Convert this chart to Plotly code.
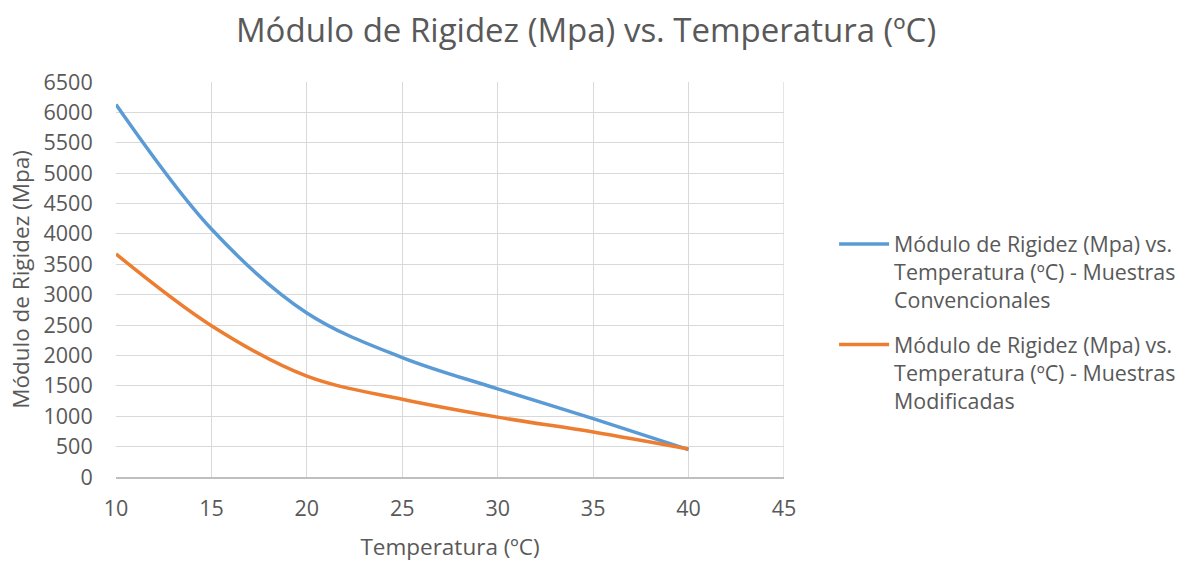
import plotly.graph_objects as go

temperatura = [10, 15, 20, 25, 30, 35, 40]
conv = [6130, 4080, 2700, 1965, 1450, 960, 450]
modif = [3670, 2490, 1660, 1280, 985, 740, 460]

name_conv = "Módulo de Rigidez (Mpa) vs.<br>Temperatura (ºC) - Muestras<br>Convencionales"
name_mod = "Módulo de Rigidez (Mpa) vs.<br>Temperatura (ºC) - Muestras<br>Modificadas"

FONT = "Open Sans"
TXT = "#595959"

fig = go.Figure()
fig.add_trace(go.Scatter(x=temperatura, y=conv, mode="lines", name=name_conv, legendgroup="a",
                         line=dict(color="#5B9BD5", width=3.5, shape="spline", smoothing=1.0)))
fig.add_trace(go.Scatter(x=temperatura, y=modif, mode="lines", name=name_mod, legendgroup="b",
                         line=dict(color="#ED7D31", width=3.5, shape="spline", smoothing=1.0)))

fig.update_layout(
    width=1196, height=562,
    margin=dict(l=116, r=412, t=82, b=85),
    paper_bgcolor="white", plot_bgcolor="white",
    font=dict(family=FONT, color=TXT, size=21.5),
    title=dict(text="Módulo de Rigidez (Mpa) vs. Temperatura (ºC)",
               x=0.49, xref="container", xanchor="center",
               y=0.945, yref="container", yanchor="middle",
               font=dict(family=FONT, size=33, color=TXT)),
    legend=dict(x=1.075, y=0.392, xanchor="left", yanchor="middle", valign="top",
                font=dict(family=FONT, size=21.4, color=TXT),
                tracegroupgap=14, itemwidth=50, bgcolor="rgba(0,0,0,0)"),
    xaxis=dict(range=[10, 45], dtick=5, tick0=10, showgrid=True, gridcolor="#D9D9D9",
               gridwidth=1.3, showline=True, linecolor="#BFBFBF", linewidth=1.5,
               zeroline=False, ticks="outside", ticklen=11, tickcolor="rgba(0,0,0,0)",
               tickfont=dict(size=21.5, color=TXT), automargin=False,
               title=dict(text="Temperatura (ºC)", font=dict(size=22.5, color=TXT), standoff=20)),
    yaxis=dict(range=[0, 6500], dtick=500, tick0=0, showgrid=True, gridcolor="#D9D9D9",
               gridwidth=1.3, showline=False, zeroline=False,
               ticks="outside", ticklen=18, tickcolor="rgba(0,0,0,0)",
               tickfont=dict(size=21.5, color=TXT), automargin=False,
               title=dict(text="Módulo de Rigidez (Mpa)", font=dict(size=22.5, color=TXT), standoff=7)),
)
fig.add_shape(type="line", xref="x", yref="paper", x0=45, x1=45, y0=0, y1=1,
              line=dict(color="#D9D9D9", width=1.3), layer="below")

fig.write_html("out.html")
